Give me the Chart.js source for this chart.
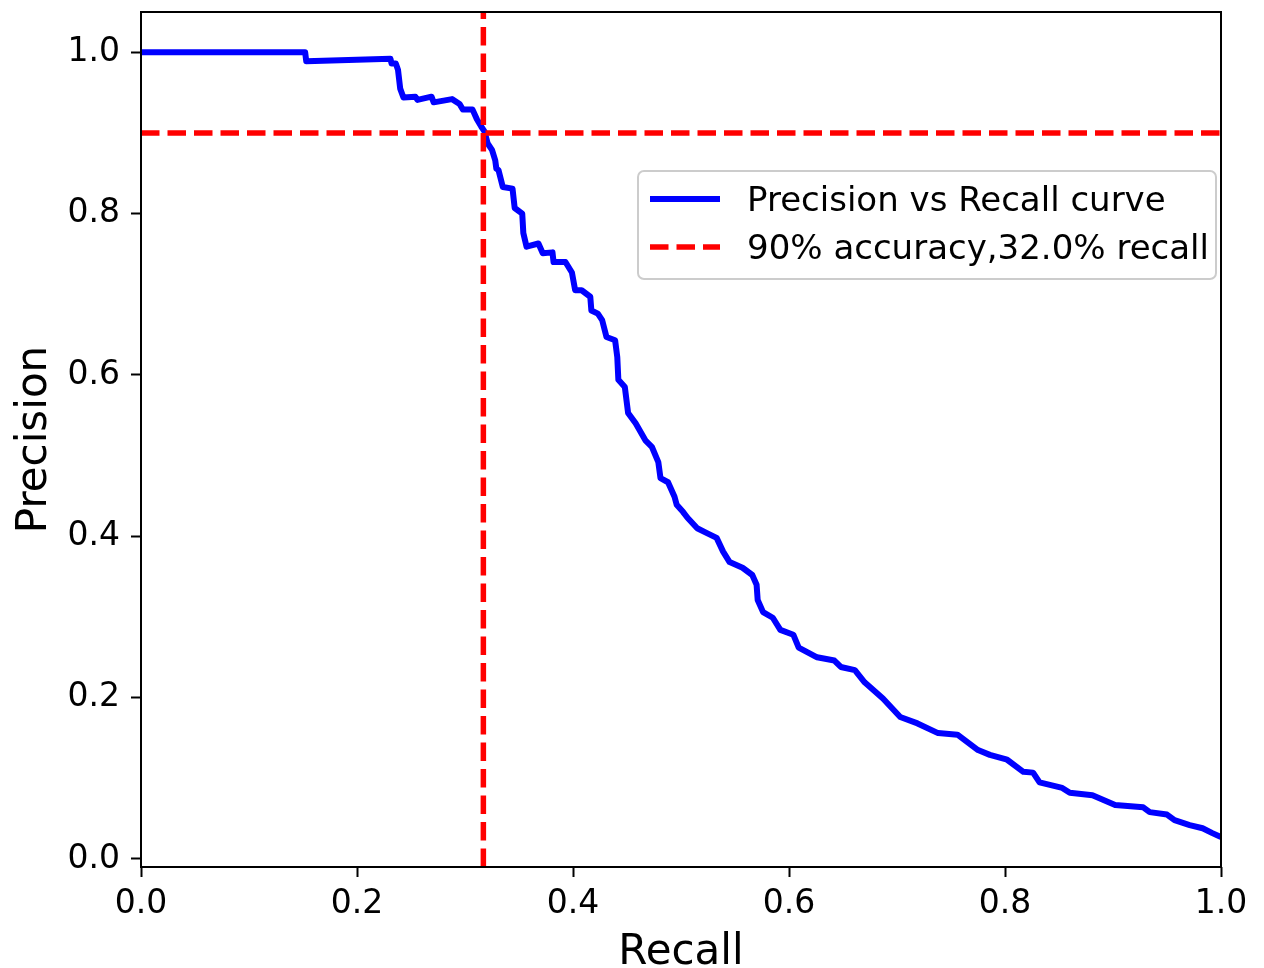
<!DOCTYPE html>
<html>
<head>
<meta charset="utf-8">
<script src="https://cdn.jsdelivr.net/npm/chart.js@4.4.0/dist/chart.umd.min.js"></script>
<style>
    html, body { margin: 0; padding: 0; background: #ffffff; }
</style>
</head>
<body>
<canvas id="prCanvas" width="1264" height="968"></canvas>
<script>
// values
const recall = [0.000, 0.152, 0.153, 0.231, 0.232, 0.236, 0.238, 0.240, 0.243, 0.254,
    0.256, 0.269, 0.271, 0.288, 0.295, 0.298, 0.307, 0.311, 0.315, 0.318,
    0.321, 0.325, 0.328, 0.329, 0.331, 0.335, 0.344, 0.346, 0.353, 0.354,
    0.357, 0.368, 0.372, 0.381, 0.382, 0.393, 0.399, 0.402, 0.408, 0.416,
    0.417, 0.423, 0.427, 0.431, 0.439, 0.441, 0.442, 0.448, 0.451, 0.458,
    0.467, 0.473, 0.479, 0.481, 0.488, 0.494, 0.496, 0.502, 0.506, 0.515,
    0.524, 0.533, 0.539, 0.545, 0.557, 0.566, 0.570, 0.571, 0.576, 0.585,
    0.592, 0.604, 0.609, 0.626, 0.642, 0.648, 0.661, 0.670, 0.687, 0.703,
    0.719, 0.738, 0.756, 0.775, 0.786, 0.802, 0.817, 0.826, 0.832, 0.853,
    0.860, 0.881, 0.902, 0.928, 0.934, 0.950, 0.957, 0.971, 0.983, 0.992, 1.000];
const precision = [1.000, 1.000, 0.989, 0.992, 0.986, 0.986, 0.978, 0.955, 0.944, 0.945,
    0.941, 0.945, 0.938, 0.942, 0.936, 0.929, 0.929, 0.917, 0.908, 0.902,
    0.887, 0.879, 0.866, 0.856, 0.854, 0.833, 0.831, 0.807, 0.800, 0.776,
    0.759, 0.763, 0.751, 0.752, 0.740, 0.740, 0.727, 0.705, 0.705, 0.697,
    0.680, 0.676, 0.668, 0.647, 0.643, 0.622, 0.594, 0.585, 0.553, 0.540,
    0.519, 0.511, 0.492, 0.472, 0.467, 0.449, 0.439, 0.430, 0.423, 0.410,
    0.404, 0.398, 0.381, 0.368, 0.361, 0.352, 0.340, 0.321, 0.306, 0.299,
    0.284, 0.278, 0.262, 0.250, 0.246, 0.238, 0.234, 0.219, 0.199, 0.176,
    0.168, 0.156, 0.154, 0.135, 0.129, 0.123, 0.108, 0.107, 0.095, 0.088,
    0.082, 0.079, 0.067, 0.064, 0.058, 0.055, 0.048, 0.042, 0.038, 0.032, 0.027];

const thresholdRecall = 0.317;
const thresholdPrecision = 0.9;

const xTicks = [0.0, 0.2, 0.4, 0.6, 0.8, 1.0];
const yTicks = [0.0, 0.2, 0.4, 0.6, 0.8, 1.0];
const xLimits = [0, 1];
const yLimits = [-0.01, 1.05];

const legendLabels = ['Precision vs Recall curve', '90% accuracy,32.0% recall'];

const fontFamily = '"DejaVu Sans", sans-serif';

const curvePoints = recall.map((r, i) => ({x: r, y: precision[i]}));

// frame round the plot area, like matplotlib spines
const framePlugin = {
    id: 'frame',
    afterDatasetsDraw(chart) {
        const a = chart.chartArea;
        const ctx = chart.ctx;
        ctx.save();
        ctx.strokeStyle = '#000000';
        ctx.lineWidth = 2;
        ctx.strokeRect(a.left, a.top, a.right - a.left, a.bottom - a.top);
        ctx.restore();
    }
};

// legend drawn inside the plot area, upper right
const boxLegendPlugin = {
    id: 'boxLegend',
    afterDraw(chart) {
        const ctx = chart.ctx;
        const a = chart.chartArea;
        const boxRight = a.right - 5;
        const boxLeft = boxRight - 578;
        const boxTop = 171;
        const boxH = 108;
        const r = 6;

        ctx.save();
        ctx.beginPath();
        ctx.moveTo(boxLeft + r, boxTop);
        ctx.arcTo(boxRight, boxTop, boxRight, boxTop + boxH, r);
        ctx.arcTo(boxRight, boxTop + boxH, boxLeft, boxTop + boxH, r);
        ctx.arcTo(boxLeft, boxTop + boxH, boxLeft, boxTop, r);
        ctx.arcTo(boxLeft, boxTop, boxRight, boxTop, r);
        ctx.closePath();
        ctx.fillStyle = 'rgba(255,255,255,0.8)';
        ctx.fill();
        ctx.strokeStyle = '#cccccc';
        ctx.lineWidth = 2;
        ctx.stroke();

        const rows = [boxTop + 28, boxTop + 76];
        const styles = [
            {color: '#0000ff', dash: [], width: 6},
            {color: '#ff0000', dash: [18.5, 8], width: 5.5}
        ];
        rows.forEach((y, i) => {
            ctx.beginPath();
            ctx.setLineDash(styles[i].dash);
            ctx.strokeStyle = styles[i].color;
            ctx.lineWidth = styles[i].width;
            ctx.moveTo(boxLeft + 12, y);
            ctx.lineTo(boxLeft + 82, y);
            ctx.stroke();
            ctx.setLineDash([]);

            ctx.fillStyle = '#000000';
            ctx.font = '34px ' + fontFamily;
            ctx.textBaseline = 'middle';
            ctx.textAlign = 'left';
            ctx.fillText(legendLabels[i], boxLeft + 109, y + 3);
        });
        ctx.restore();
    }
};

const chartData = {
    datasets: [
        {
            label: legendLabels[1],
            data: [{x: thresholdRecall, y: yLimits[0]}, {x: thresholdRecall, y: yLimits[1]}],
            borderColor: '#ff0000',
            borderWidth: 5.5,
            borderDash: [18.5, 8],
            showLine: true,
            pointRadius: 0,
            order: 0
        },
        {
            label: legendLabels[1],
            data: [{x: xLimits[0], y: thresholdPrecision}, {x: xLimits[1], y: thresholdPrecision}],
            borderColor: '#ff0000',
            borderWidth: 5.5,
            borderDash: [18.5, 8],
            showLine: true,
            pointRadius: 0,
            order: 0
        },
        {
            label: legendLabels[0],
            data: curvePoints,
            borderColor: '#0000ff',
            borderWidth: 6,
            showLine: true,
            pointRadius: 0,
            tension: 0,
            borderJoinStyle: 'round',
            order: 1
        }
    ]
};

const tickStyle = {
    font: {family: fontFamily, size: 33},
    color: '#000000',
    callback: (value) => Number(value).toFixed(1)
};

const chartOptions = {
    responsive: false,
    animation: false,
    devicePixelRatio: 1,
    layout: {
        padding: {top: 12, right: 43, left: 0, bottom: 0}
    },
    plugins: {
        legend: {display: false},
        tooltip: {enabled: false}
    },
    scales: {
        x: {
            type: 'linear',
            min: xLimits[0],
            max: xLimits[1],
            afterBuildTicks: (scale) => {
                scale.ticks = xTicks.map((v) => ({value: v}));
            },
            afterFit: (scale) => {
                scale.height = 101;
                scale.paddingLeft = 0;
                scale.paddingRight = 0;
            },
            border: {display: false},
            grid: {
                drawOnChartArea: false,
                drawTicks: true,
                tickLength: 10,
                tickWidth: 2,
                tickColor: '#000000'
            },
            ticks: Object.assign({padding: 8, maxRotation: 0}, tickStyle),
            title: {
                display: true,
                text: 'Recall',
                color: '#000000',
                font: {family: fontFamily, size: 42},
                padding: {top: 0, bottom: -10}
            }
        },
        y: {
            type: 'linear',
            min: yLimits[0],
            max: yLimits[1],
            afterBuildTicks: (scale) => {
                scale.ticks = yTicks.map((v) => ({value: v}));
            },
            afterFit: (scale) => {
                scale.width = 141;
                scale.paddingTop = 0;
                scale.paddingBottom = 0;
            },
            border: {display: false},
            grid: {
                drawOnChartArea: false,
                drawTicks: true,
                tickLength: 10,
                tickWidth: 2,
                tickColor: '#000000'
            },
            ticks: Object.assign({padding: 11}, tickStyle),
            title: {
                display: true,
                text: 'Precision',
                color: '#000000',
                font: {family: fontFamily, size: 42},
                padding: {top: 10, bottom: 0}
            }
        }
    }
};

new Chart(document.getElementById('prCanvas'), {
    type: 'scatter',
    data: chartData,
    options: chartOptions,
    plugins: [framePlugin, boxLegendPlugin]
});
</script>
</body>
</html>
